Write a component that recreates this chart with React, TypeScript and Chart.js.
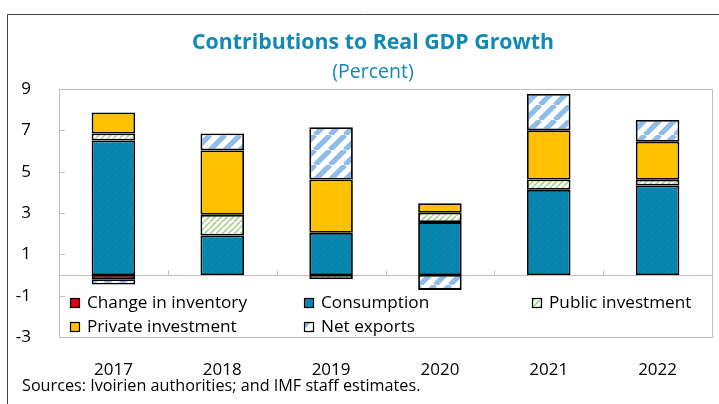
import React, { useEffect, useRef } from "react";
import { Chart, registerables } from "chart.js";

Chart.register(...registerables);

const categories = ["2017", "2018", "2019", "2020", "2021", "2022"];
const inventory = [-0.2, null, null, null, null, null];
const consumption = [6.51, 1.91, 2.04, 2.56, 4.12, 4.33];
const publicInvestment = [0.34, 1.0, -0.2, 0.45, 0.5, 0.28];
const privateInvestment = [1.01, 3.12, 2.58, 0.46, 2.38, 1.84];
const netExports = [-0.26, 0.82, 2.53, -0.72, 1.76, 1.05];
const seriesNames = [
  "Change in inventory",
  "Consumption",
  "Public investment",
  "Private investment",
  "Net exports",
];
const titleText = "Contributions to Real GDP Growth";
const subtitleText = "(Percent)";
const sourceText = "Sources: Ivoirien authorities; and IMF staff estimates.";

const FONT = "'Open Sans', 'Noto Sans', sans-serif";

function stripes(bg: string, fg: string, size: number, lw: number): CanvasPattern | string {
  const c = document.createElement("canvas");
  c.width = size;
  c.height = size;
  const ctx = c.getContext("2d");
  if (!ctx) return bg;
  ctx.fillStyle = bg;
  ctx.fillRect(0, 0, size, size);
  ctx.strokeStyle = fg;
  ctx.lineWidth = lw;
  for (const k of [-size, 0, size]) {
    ctx.beginPath();
    ctx.moveTo(k, size);
    ctx.lineTo(k + size, 0);
    ctx.stroke();
  }
  const p = ctx.createPattern(c, "repeat");
  return p || bg;
}

export default function App() {
  const ref = useRef<HTMLCanvasElement | null>(null);

  useEffect(() => {
    const canvas = ref.current;
    if (!canvas) return;

    const consumptionFill = stripes("#0888B0", "#077CA3", 6, 1);
    const publicFill = stripes("#FFFFFF", "#A9D18E", 6, 1.6);
    const netFill = stripes("#FFFFFF", "#8FBDE8", 15, 5.2);

    const fills = ["#E3000F", consumptionFill, publicFill, "#FFC000", netFill];
    const values = [inventory, consumption, publicInvestment, privateInvestment, netExports];

    const frame = {
      id: "frame",
      beforeDatasetsDraw(chart: any) {
        const { ctx, chartArea } = chart;
        const { left, right, top, bottom } = chartArea;
        const y = chart.scales.y;
        const x = chart.scales.x;
        ctx.save();
        ctx.strokeStyle = "#BFBFBF";
        ctx.lineWidth = 1;
        ctx.strokeRect(Math.round(left) + 0.5, Math.round(top) + 0.5, Math.round(right - left), Math.round(bottom - top));
        const y0 = Math.round(y.getPixelForValue(0)) + 0.5;
        ctx.beginPath();
        ctx.moveTo(left, y0);
        ctx.lineTo(right, y0);
        for (let i = 1; i < categories.length; i++) {
          const bx = Math.round((x.getPixelForValue(i - 1) + x.getPixelForValue(i)) / 2) + 0.5;
          ctx.moveTo(bx, y0);
          ctx.lineTo(bx, y0 - 5);
        }
        for (const t of y.ticks) {
          const ty = Math.round(y.getPixelForValue(t.value)) + 0.5;
          ctx.moveTo(left, ty);
          ctx.lineTo(left + 6, ty);
        }
        ctx.stroke();
        ctx.restore();
      },
      afterDraw(chart: any) {
        const { ctx } = chart;
        ctx.save();
        // outer frame
        ctx.strokeStyle = "#404040";
        ctx.lineWidth = 1;
        ctx.beginPath();
        ctx.moveTo(7.5, 404);
        ctx.lineTo(7.5, 14.5);
        ctx.lineTo(719, 14.5);
        ctx.stroke();
        // titles
        ctx.textAlign = "center";
        ctx.textBaseline = "middle";
        ctx.fillStyle = "#1189B5";
        ctx.font = `bold 21.3px ${FONT}`;
        ctx.fillText(titleText, 373, 43);
        ctx.font = `19.5px ${FONT}`;
        ctx.fillText(subtitleText, 373, 72);
        // source
        ctx.textAlign = "left";
        ctx.fillStyle = "#000000";
        ctx.font = `16.2px ${FONT}`;
        ctx.fillText(sourceText, 22, 386);
        // legend
        const colX = [70, 304, 532];
        const rowY = [303, 327];
        ctx.font = `17.2px ${FONT}`;
        chart.data.datasets.forEach((ds: any, i: number) => {
          const cx = colX[i % 3];
          const cy = rowY[Math.floor(i / 3)];
          ctx.fillStyle = ds.backgroundColor;
          ctx.fillRect(cx, cy - 5, 10, 10);
          ctx.strokeStyle = "#000000";
          ctx.lineWidth = 1.2;
          ctx.strokeRect(cx + 0.5, cy - 4.5, 9, 9);
          ctx.fillStyle = "#000000";
          ctx.fillText(ds.label, cx + 17, cy);
        });
        ctx.restore();
      },
    };

    const chart = new Chart(canvas, {
      type: "bar",
      data: {
        labels: categories,
        datasets: seriesNames.map((name, i) => ({
          label: name,
          data: values[i] as any,
          backgroundColor: fills[i] as any,
          borderColor: "#000000",
          borderWidth: 1.8,
          borderSkipped: false,
          barPercentage: 0.4,
          categoryPercentage: 1,
        })),
      },
      options: {
        responsive: false,
        animation: false,
        devicePixelRatio: 1,
        layout: { padding: { left: 0, right: 7, top: 89, bottom: 0 } },
        plugins: {
          legend: { display: false },
          title: { display: false },
          tooltip: { enabled: false },
        },
        scales: {
          x: {
            stacked: true,
            grid: { display: false },
            border: { display: false },
            ticks: {
              color: "#000000",
              font: { family: FONT, size: 17 },
              padding: 15,
              maxRotation: 0,
            },
            afterFit: (s: any) => {
              s.height = 67;
            },
          },
          y: {
            stacked: true,
            min: -3,
            max: 9,
            grid: { display: false },
            border: { display: false },
            ticks: {
              stepSize: 2,
              color: "#000000",
              font: { family: FONT, size: 17 },
              padding: 20,
            },
            afterFit: (s: any) => {
              s.width = 59;
            },
          },
        },
      },
      plugins: [frame],
    });

    return () => chart.destroy();
  }, []);

  return (
    <div style={{ position: "absolute", left: 0, top: 0, width: 719, height: 404 }}>
      <canvas ref={ref} width={719} height={404} style={{ display: "block", width: 719, height: 404 }} />
    </div>
  );
}
